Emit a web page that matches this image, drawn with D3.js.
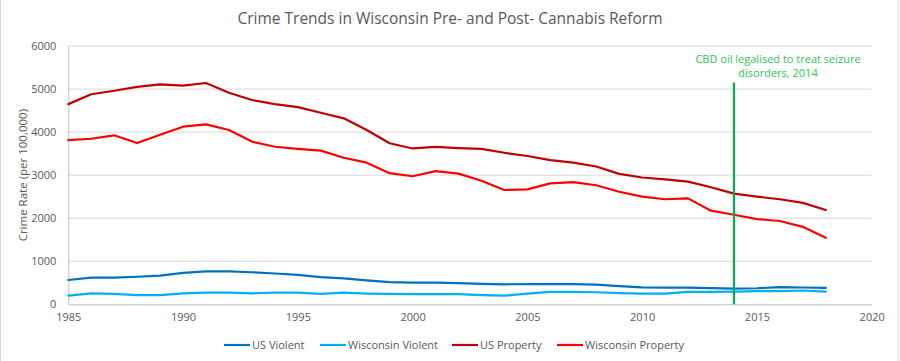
<!DOCTYPE html>
<html>
<head>
<meta charset="utf-8">
<script src="https://cdn.jsdelivr.net/npm/d3@7"></script>
<style>
  html, body { margin: 0; padding: 0; background: #fff; }
  svg { display: block; }
  text { font-family: "Open Sans", "Noto Sans", sans-serif; }
</style>
</head>
<body>
<svg id="chart" width="900" height="361"></svg>
<script>
const years = d3.range(1985, 2019);
const usViolent = [565, 620, 620, 640, 665, 730, 765, 765, 745, 715, 685, 630, 600, 555, 515, 505, 505, 490, 475, 465, 470, 470, 470, 455, 420, 395, 387, 387, 375, 365, 373, 400, 390, 380];
const wiViolent = [200, 255, 240, 215, 215, 255, 270, 270, 255, 270, 270, 240, 270, 250, 240, 235, 235, 235, 215, 200, 250, 290, 290, 280, 260, 250, 250, 290, 290, 295, 305, 305, 320, 295];
const usProperty = [4650, 4880, 4960, 5050, 5110, 5080, 5140, 4915, 4745, 4650, 4580, 4450, 4320, 4050, 3740, 3620, 3655, 3630, 3610, 3520, 3445, 3350, 3290, 3200, 3030, 2945, 2900, 2850, 2720, 2570, 2500, 2440, 2355, 2190];
const wiProperty = [3815, 3845, 3925, 3745, 3940, 4125, 4180, 4050, 3780, 3660, 3610, 3570, 3405, 3290, 3045, 2975, 3095, 3035, 2870, 2655, 2670, 2810, 2840, 2765, 2615, 2500, 2440, 2460, 2175, 2080, 1980, 1935, 1800, 1545];
const seriesNames = ["US Violent", "Wisconsin Violent", "US Property", "Wisconsin Property"];
const seriesColors = ["#0070C0", "#00B0F0", "#C00000", "#FF0000"];
const xTicks = [1985, 1990, 1995, 2000, 2005, 2010, 2015, 2020];
const yTicks = [0, 1000, 2000, 3000, 4000, 5000, 6000];
const annotationYear = 2014;
const annotationTop = 5150;
const annotationLines = ["CBD oil legalised to treat seizure", "disorders, 2014"];
const titleText = "Crime Trends in Wisconsin Pre- and Post- Cannabis Reform";
const yLabel = "Crime Rate (per 100,000)";

const series = [usViolent, wiViolent, usProperty, wiProperty];

const svg = d3.select("#chart");
const x = d3.scaleLinear().domain([1985, 2020]).range([68.3, 871.7]);
const y = d3.scaleLinear().domain([0, 6000]).range([304.3, 46]);

// border
svg.append("rect").attr("x", 0.5).attr("y", -1).attr("width", 897.5).attr("height", 370)
  .attr("fill", "none").attr("stroke", "#D9D9D9").attr("stroke-width", 1);

// gridlines
svg.append("g").selectAll("line").data(yTicks.filter(d => d > 0)).join("line")
  .attr("x1", x(1985)).attr("x2", x(2020))
  .attr("y1", d => y(d)).attr("y2", d => y(d))
  .attr("stroke", "#D9D9D9").attr("stroke-width", 1);

// y axis
const yAxis = svg.append("g").attr("transform", `translate(${x(1985)},0)`)
  .call(d3.axisLeft(y).tickValues(yTicks).tickSize(0).tickPadding(12).tickFormat(d3.format("d")));
yAxis.select(".domain").attr("stroke", "#BFBFBF");
yAxis.selectAll("text").attr("fill", "#595959").style("font-size", "11px");

// x axis
const xAxis = svg.append("g").attr("transform", `translate(0,${y(0)})`)
  .call(d3.axisBottom(x).tickValues(xTicks).tickSize(0).tickPadding(9).tickFormat(d3.format("d")));
xAxis.select(".domain").attr("stroke", "#BFBFBF");
xAxis.selectAll("text").attr("fill", "#595959").style("font-size", "11px");

// lines
const line = d3.line().x((d, i) => x(years[i])).y(d => y(d)).curve(d3.curveLinear);
svg.append("g").selectAll("path").data(series).join("path")
  .attr("d", d => line(d))
  .attr("fill", "none")
  .attr("stroke", (d, i) => seriesColors[i])
  .attr("stroke-width", 2.2)
  .attr("stroke-linejoin", "round")
  .attr("stroke-linecap", "round");

// annotation
svg.append("line")
  .attr("x1", x(annotationYear)).attr("x2", x(annotationYear))
  .attr("y1", y(annotationTop)).attr("y2", y(0))
  .attr("stroke", "#00B050").attr("stroke-width", 2.2);
svg.append("g").selectAll("text").data(annotationLines).join("text")
  .attr("x", 778).attr("y", (d, i) => 63 + i * 14)
  .attr("text-anchor", "middle")
  .attr("fill", "#2FC35A")
  .style("font-size", "11px")
  .text(d => d);

// title
svg.append("text").attr("x", 450).attr("y", 24).attr("text-anchor", "middle")
  .attr("fill", "#595959").style("font-size", "15.5px").text(titleText);

// y label
svg.append("text").attr("transform", `translate(27,${y(3000)}) rotate(-90)`)
  .attr("text-anchor", "middle").attr("fill", "#595959").style("font-size", "11.5px").text(yLabel);

// legend
const legendX = [224, 320, 452, 557];
const leg = svg.append("g").selectAll("g").data(seriesNames).join("g")
  .attr("transform", (d, i) => `translate(${legendX[i]},345)`);
leg.append("line").attr("x1", 0).attr("x2", 26).attr("y1", 0).attr("y2", 0)
  .attr("stroke", (d, i) => seriesColors[i]).attr("stroke-width", 2.2);
leg.append("text").attr("x", 28).attr("y", 4).attr("fill", "#595959")
  .style("font-size", "11px").text(d => d);
</script>
</body>
</html>
